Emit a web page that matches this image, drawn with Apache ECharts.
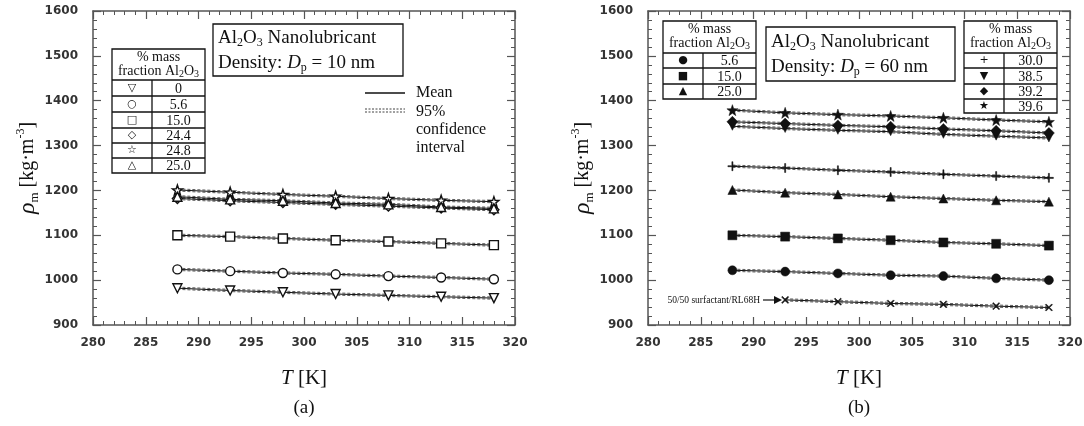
<!DOCTYPE html>
<html><head><meta charset="utf-8">
<script src="https://cdn.jsdelivr.net/npm/echarts@6/dist/echarts.min.js"></script>
<style>html,body{margin:0;padding:0;background:#fff}#c{width:1084px;height:426px}</style>
</head><body><div id="c"></div><script>
// ---- data ----
const xTickLabels = [280, 285, 290, 295, 300, 305, 310, 315, 320];
const yTickLabels = [900, 1000, 1100, 1200, 1300, 1400, 1500, 1600];
const temps = [288, 293, 298, 303, 308, 313, 318];
const tempsSurfactant = [293, 298, 303, 308, 313, 318];

// panel (a): Dp = 10 nm
const fracA = ['0', '5.6', '15.0', '24.4', '24.8', '25.0'];
const rhoA_0    = [982, 977, 973, 969, 966, 963, 960];
const rhoA_5_6  = [1024, 1020, 1016, 1013, 1009, 1006, 1002];
const rhoA_15_0 = [1100, 1097, 1093, 1089, 1086, 1082, 1078];
const rhoA_24_4 = [1182, 1177, 1173, 1169, 1165, 1161, 1157];
const rhoA_24_8 = [1201, 1196, 1191, 1187, 1182, 1178, 1175];
const rhoA_25_0 = [1186, 1180, 1177, 1172, 1169, 1163, 1160];
const ciHalfA = [2.5, 2.5, 2.5, 2.5, 2.5, 2.5];

// panel (b): Dp = 60 nm
const fracB = ['5.6', '15.0', '25.0', '30.0', '38.5', '39.2', '39.6'];
const rhoB_5_6  = [1022, 1019, 1015, 1011, 1009, 1004, 1000];
const rhoB_15_0 = [1100, 1097, 1093, 1089, 1084, 1081, 1077];
const rhoB_25_0 = [1201, 1195, 1191, 1186, 1182, 1178, 1175];
const rhoB_30_0 = [1254, 1250, 1245, 1241, 1236, 1232, 1228];
const rhoB_38_5 = [1343, 1338, 1334, 1331, 1325, 1321, 1317];
const rhoB_39_2 = [1353, 1349, 1345, 1342, 1337, 1333, 1328];
const rhoB_39_6 = [1379, 1373, 1369, 1366, 1362, 1357, 1353];
const rhoSurfactant = [956, 952, 948, 946, 942, 939];
const ciHalfB = [2.5, 2.5, 2.5, 2.5, 2.5, 2.5, 2.5];
const ciHalfSurf = 2.5;

// ---- symbols ----
const STAR = 'path://M0,-10L2.35,-3.24L9.51,-3.09L3.8,1.24L5.88,8.09L0,4L-5.88,8.09L-3.8,1.24L-9.51,-3.09L-2.35,-3.24Z';
const PLUS = 'path://M-1.2,-10L1.2,-10L1.2,-1.2L10,-1.2L10,1.2L1.2,1.2L1.2,10L-1.2,10L-1.2,1.2L-10,1.2L-10,-1.2L-1.2,-1.2Z';

const SERIF = 'Liberation Serif';
const SANS = 'DejaVu Sans';
const AX = '#555';

function xAx(grid, pos) {
  return {
    type: 'value', gridIndex: grid, position: pos,
    min: xTickLabels[0], max: xTickLabels[xTickLabels.length - 1], interval: 5,
    axisLine: {show: true, onZero: false, lineStyle: {color: AX, width: 1.5}},
    axisTick: {show: true, inside: true, length: 8, lineStyle: {color: AX, width: 1.2}},
    minorTick: {show: true, splitNumber: 5, length: 4, lineStyle: {color: AX, width: 1}},
    splitLine: {show: false},
    axisLabel: {show: pos === 'bottom', margin: 12, fontFamily: SANS, fontSize: 12, fontWeight: 'bold', color: '#333',
      formatter: v => String(v)},
    name: pos === 'bottom' ? '{i|T} [K]' : '',
    nameLocation: 'middle', nameGap: 43,
    nameTextStyle: {fontFamily: SERIF, fontSize: 21, color: '#111',
      rich: {i: {fontFamily: SERIF, fontSize: 21, fontStyle: 'italic', color: '#111'}}}
  };
}
function yAx(grid, pos) {
  return {
    type: 'value', gridIndex: grid, position: pos,
    min: yTickLabels[0], max: yTickLabels[yTickLabels.length - 1], interval: 100,
    axisLine: {show: true, onZero: false, lineStyle: {color: AX, width: 1.5}},
    axisTick: {show: true, inside: true, length: 8, lineStyle: {color: AX, width: 1.2}},
    minorTick: {show: true, splitNumber: 5, length: 4, lineStyle: {color: AX, width: 1}},
    splitLine: {show: false},
    axisLabel: {show: pos === 'left', margin: 15, fontFamily: SANS, fontSize: 12, fontWeight: 'bold', color: '#333',
      formatter: v => String(v)},
    name: pos === 'left' ? '{r|ρ}{s|m} [kg·m{p|-3}]' : '',
    nameLocation: 'middle', nameGap: 52, nameRotate: 90,
    nameTextStyle: {fontFamily: SERIF, fontSize: 20, color: '#111', lineHeight: 26,
      rich: {
        r: {fontFamily: SERIF, fontSize: 24, fontStyle: 'italic', color: '#111', lineHeight: 26},
        s: {fontFamily: SERIF, fontSize: 13, color: '#111', verticalAlign: 'bottom', lineHeight: 13},
        p: {fontFamily: SERIF, fontSize: 12, color: '#111', verticalAlign: 'top', lineHeight: 12}
      }}
  };
}

const series = [];
function addGroup(xIdx, xs, ys, ci, symbol, size, filled, rotate) {
  const pts = xs.map((t, i) => [t, ys[i]]);
  [1, -1].forEach(sg => {
    series.push({
      type: 'line', xAxisIndex: xIdx, yAxisIndex: xIdx, silent: true,
      data: xs.map((t, i) => [t, ys[i] + sg * ci]),
      symbol: 'none', lineStyle: {color: '#333', width: 0.8, type: [3, 2]}, z: 2
    });
  });
  series.push({
    type: 'line', xAxisIndex: xIdx, yAxisIndex: xIdx, data: pts,
    symbol: symbol, symbolSize: size, symbolRotate: rotate || 0,
    lineStyle: {color: '#111', width: 1},
    itemStyle: {color: filled ? '#111' : '#fff', borderColor: '#111', borderWidth: filled ? 0.5 : 1.4},
    z: 3
  });
}
// panel (a) - open symbols
addGroup(0, temps, rhoA_0, ciHalfA[0], 'triangle', 9, false, 180);
addGroup(0, temps, rhoA_5_6, ciHalfA[1], 'circle', 9, false);
addGroup(0, temps, rhoA_15_0, ciHalfA[2], 'rect', 9, false);
addGroup(0, temps, rhoA_24_4, ciHalfA[3], 'diamond', 10, false);
addGroup(0, temps, rhoA_24_8, ciHalfA[4], STAR, 10, false);
addGroup(0, temps, rhoA_25_0, ciHalfA[5], 'triangle', 9, false);
// panel (b) - filled symbols
addGroup(2, temps, rhoB_5_6, ciHalfB[0], 'circle', 9, true);
addGroup(2, temps, rhoB_15_0, ciHalfB[1], 'rect', 9, true);
addGroup(2, temps, rhoB_25_0, ciHalfB[2], 'triangle', 9, true);
addGroup(2, temps, rhoB_30_0, ciHalfB[3], PLUS, 9, true);
addGroup(2, temps, rhoB_38_5, ciHalfB[4], 'triangle', 8, true, 180);
addGroup(2, temps, rhoB_39_2, ciHalfB[5], 'diamond', 11, true);
addGroup(2, temps, rhoB_39_6, ciHalfB[6], STAR, 11, true);
addGroup(2, tempsSurfactant, rhoSurfactant, ciHalfSurf, PLUS, 9, true, 45);

// ---- annotations (graphic) ----
const G = [];
const sub = {s: {fontFamily: SERIF, fontSize: 12, verticalAlign: 'bottom', lineHeight: 12, fill: '#111'}};
function txt(x, y, text, size, align, extra) {
  G.push(Object.assign({type: 'text', x: x, y: y, z: 20,
    style: Object.assign({text: text, fontFamily: SERIF, fontSize: size, fill: '#111',
      align: align || 'center', verticalAlign: 'middle'}, extra || {})}));
}
function line(x1, y1, x2, y2, w, dash) {
  G.push({type: 'line', z: 20, shape: {x1, y1, x2, y2},
    style: {stroke: '#111', lineWidth: w || 1.3, lineDash: dash || null}});
}
function rect(x, y, w, h) {
  G.push({type: 'rect', z: 19, shape: {x, y, width: w, height: h},
    style: {stroke: '#111', lineWidth: 1.3, fill: '#fff'}});
}
function table(x0, x1, xd, yTop, yHead, bounds, glyphs, labels) {
  const yBot = bounds[bounds.length - 1];
  rect(x0, yTop, x1 - x0, yBot - yTop);
  const xc = (x0 + x1) / 2;
  txt(xc, yTop + 8, '% mass', 14);
  txt(xc, yTop + 22, 'fraction Al{s|2}O{s|3}', 14, 'center', {rich: {s: {fontFamily: SERIF, fontSize: 10, verticalAlign: 'bottom', lineHeight: 10, fill: '#111'}}, lineHeight: 16});
  line(x0, yHead, x1, yHead, 1.6);
  bounds.slice(0, -1).forEach(b => line(x0, b, x1, b, 1.6));
  line(xd, yHead, xd, yBot, 1.3);
  let prev = yHead;
  bounds.forEach((b, i) => {
    const yc = (prev + b) / 2;
    txt((x0 + xd) / 2, yc, glyphs[i], 11, 'center', {fontFamily: SANS});
    txt((xd + x1) / 2, yc + 1, labels[i], 14);
    prev = b;
  });
}
// panel (a)
table(112, 205, 152, 49, 80, [96, 112, 128, 143, 158, 173], ['▽', '○', '□', '◇', '☆', '△'], fracA);
rect(213, 24, 190, 52);
txt(218, 38, 'Al{s|2}O{s|3} Nanolubricant', 19, 'left', {rich: sub, lineHeight: 22});
txt(218, 63, 'Density: {i|D}{s|p} = 10 nm', 19, 'left', {lineHeight: 22, rich: {i: {fontFamily: SERIF, fontSize: 19, fontStyle: 'italic', fill: '#111'}, s: sub.s}});
line(365, 93, 405, 93, 1.3);
line(365, 109, 405, 109, 0.8, [2, 1.5]);
line(365, 112, 405, 112, 0.8, [2, 1.5]);
txt(416, 93, 'Mean', 16, 'left');
txt(416, 112, '95%', 16, 'left');
txt(416, 130, 'confidence', 16, 'left');
txt(416, 148, 'interval', 16, 'left');
txt(304, 408, '(a)', 19);
// panel (b)
table(663, 756, 703, 21, 53, [68, 84, 99], ['●', '■', '▲'], fracB.slice(0, 3));
table(964, 1057, 1004, 21, 53, [68, 84, 99, 113], ['+', '▼', '◆', '★'], fracB.slice(3));
rect(766, 27, 189, 54);
txt(771, 42, 'Al{s|2}O{s|3} Nanolubricant', 19, 'left', {rich: sub, lineHeight: 22});
txt(771, 67, 'Density: {i|D}{s|p} = 60 nm', 19, 'left', {lineHeight: 22, rich: {i: {fontFamily: SERIF, fontSize: 19, fontStyle: 'italic', fill: '#111'}, s: sub.s}});
txt(760, 300, '50/50 surfactant/RL68H', 9.5, 'right');
line(763, 300, 776, 300, 1.2);
G.push({type: 'polygon', z: 20, shape: {points: [[774, 296], [782, 300], [774, 304]]}, style: {fill: '#111'}});
txt(859, 408, '(b)', 19);

const chart = echarts.init(document.getElementById('c'), null, {renderer: 'canvas'});
chart.setOption({
  backgroundColor: '#fff',
  animation: false,
  grid: [
    {left: 93, right: 569, top: 11, bottom: 101, containLabel: false, outerBoundsMode: 'none'},
    {left: 648, right: 14, top: 11, bottom: 101, containLabel: false, outerBoundsMode: 'none'}
  ],
  xAxis: [xAx(0, 'bottom'), xAx(0, 'top'), xAx(1, 'bottom'), xAx(1, 'top')],
  yAxis: [yAx(0, 'left'), yAx(0, 'right'), yAx(1, 'left'), yAx(1, 'right')],
  series: series,
  graphic: G
});
</script></body></html>
